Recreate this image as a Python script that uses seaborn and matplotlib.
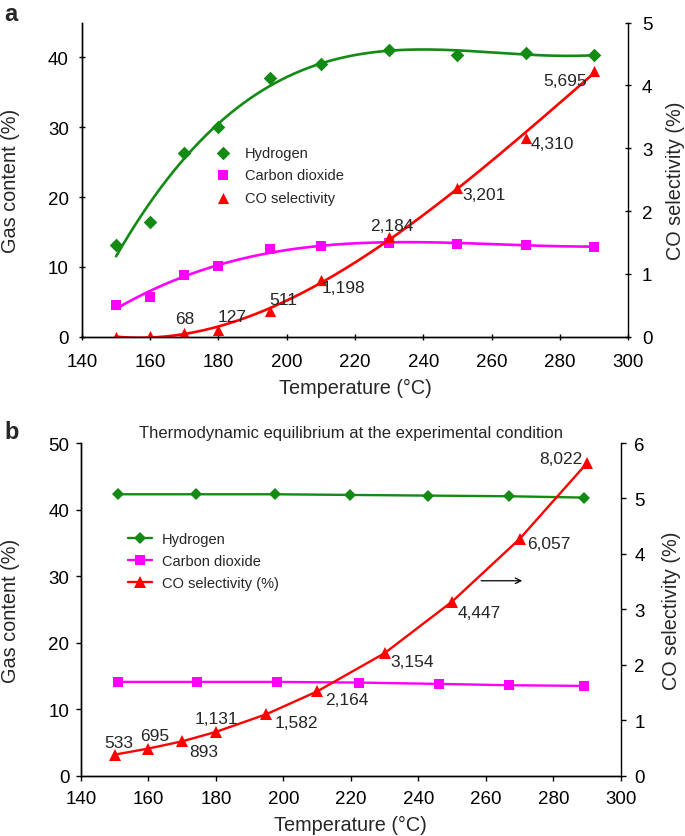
import numpy as np
import seaborn as sns
import matplotlib
matplotlib.use('Agg')
import matplotlib.pyplot as plt

# panel a: measured gas content and CO selectivity
temp_a = [150, 160, 170, 180, 195, 210, 230, 250, 270, 290]
h2_a = [13.1, 16.5, 26.3, 30.1, 37.1, 39.1, 41.1, 40.3, 40.6, 40.4]
co2_a = [4.5, 5.7, 8.9, 10.1, 12.5, 13.0, 13.4, 13.3, 13.2, 12.9]
cosel_a = [0.0, 0.01, 0.06, 0.11, 0.41, 0.90, 1.59, 2.37, 3.17, 4.23]
co_ppm_a = ['', '', '68', '127', '511', '1,198', '2,184', '3,201', '4,310', '5,695']

# panel b: thermodynamic equilibrium
temp_b_h2 = [150.9, 174.1, 197.5, 219.8, 243.0, 266.9, 289.2]
h2_b = [42.3, 42.3, 42.3, 42.2, 42.1, 42.0, 41.8]
temp_b_co2 = [150.9, 174.4, 198.2, 222.4, 246.1, 266.9, 289.2]
co2_b = [14.1, 14.1, 14.1, 14.0, 13.8, 13.6, 13.5]
temp_b = [150, 160, 170, 180, 195, 210, 230, 250, 270, 290]
cosel_b = [0.38, 0.49, 0.62, 0.79, 1.11, 1.52, 2.21, 3.14, 4.27, 5.64]
co_ppm_b = ['533', '695', '893', '1,131', '1,582', '2,164', '3,154', '4,447', '6,057', '8,022']

# label offsets from each point, in points
offs_a = [(0, 0), (0, 0), (0.4, 10.2), (9.5, 9.9), (9.8, 8.3), (16.6, -5.4),
          (1.9, 8.3), (19.4, -4.7), (19.5, -4.2), (-20.8, -7.2)]
offs_b = [(3.2, 8.9), (4.8, 9.4), (15.3, -7.1), (0.1, 9.6), (21.3, -6.0),
          (21.5, -5.5), (19.9, -6.3), (19.4, -7.7), (21.2, -3.5), (-19, 3.5)]

GREEN = '#138a13'
MAGENTA = '#ff00ff'
RED = '#ff0000'

sns.set_style('ticks')
plt.rcParams['font.family'] = ['Liberation Sans', 'DejaVu Sans']
plt.rcParams['axes.linewidth'] = 1.0

fig = plt.figure(figsize=(6.85, 8.37), dpi=100)


def style_axes(ax, ax2, direction, length, xpad, ylpad, yrpad):
    for a in (ax, ax2):
        a.spines['top'].set_visible(False)
        for s in a.spines.values():
            s.set_color('black')
    ax.spines['right'].set_visible(False)
    ax.tick_params(axis='x', direction=direction, length=length, width=1,
                   labelsize=13.5, pad=xpad, colors='black')
    ax.tick_params(axis='y', direction=direction, length=length, width=1,
                   labelsize=13.5, pad=ylpad, colors='black')
    ax2.tick_params(axis='y', direction=direction, length=length, width=1,
                    labelsize=13.5, pad=yrpad, colors='black')


# ---------------- panel a ----------------
ax = fig.add_axes([0.1197, 0.5965, 0.7971, 0.3754])
ax2 = ax.twinx()

xs = np.linspace(150, 290, 300)
sns.lineplot(x=xs, y=np.polyval(np.polyfit(temp_a, h2_a, 3), xs), color=GREEN, lw=1.9, ax=ax)
sns.lineplot(x=xs, y=np.polyval(np.polyfit(temp_a, co2_a, 3), xs), color=MAGENTA, lw=1.9, ax=ax)
sns.scatterplot(x=temp_a, y=h2_a, marker='D', s=48, color=GREEN, linewidth=0, label='Hydrogen', ax=ax)
sns.scatterplot(x=temp_a, y=co2_a, marker='s', s=55, color=MAGENTA, linewidth=0, label='Carbon dioxide', ax=ax)

sns.lineplot(x=xs, y=np.polyval(np.polyfit(temp_a, cosel_a, 3), xs), color=RED, lw=1.9, ax=ax2)
sns.scatterplot(x=temp_a, y=cosel_a, marker='^', s=65, color=RED, linewidth=0, label='CO selectivity', ax=ax2)
for xv, yv, txt, off in zip(temp_a, cosel_a, co_ppm_a, offs_a):
    if txt:
        ax2.annotate(txt, (xv, yv), xytext=off, textcoords='offset points',
                     ha='center', va='center', fontsize=12.5)

ax.set_xlim(140, 300)
ax.set_xticks(range(140, 301, 20))
ax.set_ylim(0, 45)
ax.set_yticks(range(0, 41, 10))
ax2.set_ylim(0, 5)
ax2.set_yticks(range(0, 6))
style_axes(ax, ax2, 'inout', 5, 9.5, 7, 7.5)

ax.set_xlabel('Temperature (\u00b0C)', fontsize=14.3)
ax.set_ylabel('Gas content (%)', fontsize=14.3)
ax2.set_ylabel('CO selectivity (%)', fontsize=14.3)
ax.xaxis.set_label_coords(0.5, -0.13)
ax.yaxis.set_label_coords(-0.114, 0.5)
ax2.yaxis.set_label_coords(1.07, 0.5)

h1, l1 = ax.get_legend_handles_labels()
h2, l2 = ax2.get_legend_handles_labels()
if ax.get_legend():
    ax.get_legend().remove()
ax2.legend(h1 + h2, l1 + l2, loc='center left', bbox_to_anchor=(0.245, 0.514),
           frameon=False, fontsize=10.5, handlelength=1.0, handletextpad=1.0,
           labelspacing=0.58, borderpad=0, borderaxespad=0)

fig.text(0.006, 0.996, 'a', fontsize=17, fontweight='bold', ha='left', va='top')

# ---------------- panel b ----------------
bx = fig.add_axes([0.1180, 0.0720, 0.7883, 0.3975])
bx2 = bx.twinx()

sns.lineplot(x=temp_b_h2, y=h2_b, color=GREEN, lw=1.7, marker='D', markersize=6.5,
             markeredgewidth=0, label='Hydrogen', ax=bx)
sns.lineplot(x=temp_b_co2, y=co2_b, color=MAGENTA, lw=1.7, marker='s', markersize=7.5,
             markeredgewidth=0, label='Carbon dioxide', ax=bx)
sns.lineplot(x=temp_b, y=cosel_b, color=RED, lw=1.7, marker='^', markersize=9,
             markeredgewidth=0, label='CO selectivity (%)', ax=bx2)
for xv, yv, txt, off in zip(temp_b, cosel_b, co_ppm_b, offs_b):
    bx2.annotate(txt, (xv, yv), xytext=off, textcoords='offset points',
                 ha='center', va='center', fontsize=12.5)

bx.annotate('', xy=(271.6, 29.3), xytext=(257.8, 29.3),
            arrowprops=dict(arrowstyle='->', color='black', lw=0.9))

bx.set_xlim(140, 300)
bx.set_xticks(range(140, 301, 20))
bx.set_ylim(0, 50)
bx.set_yticks(range(0, 51, 10))
bx2.set_ylim(0, 6)
bx2.set_yticks(range(0, 7))
style_axes(bx, bx2, 'out', 3.3, 7, 4.9, 6.3)

bx.set_xlabel('Temperature (\u00b0C)', fontsize=14.3)
bx.set_ylabel('Gas content (%)', fontsize=14.3)
bx2.set_ylabel('CO selectivity (%)', fontsize=14.3)
bx.xaxis.set_label_coords(0.5, -0.117)
bx.yaxis.set_label_coords(-0.113, 0.5)
bx2.yaxis.set_label_coords(1.076, 0.5)

h1, l1 = bx.get_legend_handles_labels()
h2, l2 = bx2.get_legend_handles_labels()
if bx.get_legend():
    bx.get_legend().remove()
bx2.legend(h1 + h2, l1 + l2, loc='center left', bbox_to_anchor=(0.0869, 0.645),
           frameon=False, fontsize=10.5, handlelength=1.65, handletextpad=0.68,
           labelspacing=0.55, borderpad=0, borderaxespad=0)

fig.text(0.512, 1 - 434 / 837, 'Thermodynamic equilibrium at the experimental condition',
         fontsize=12, ha='center', va='center')
fig.text(0.006, 1 - 421 / 837, 'b', fontsize=17, fontweight='bold', ha='left', va='top')

fig.savefig('out.png', dpi=100)
